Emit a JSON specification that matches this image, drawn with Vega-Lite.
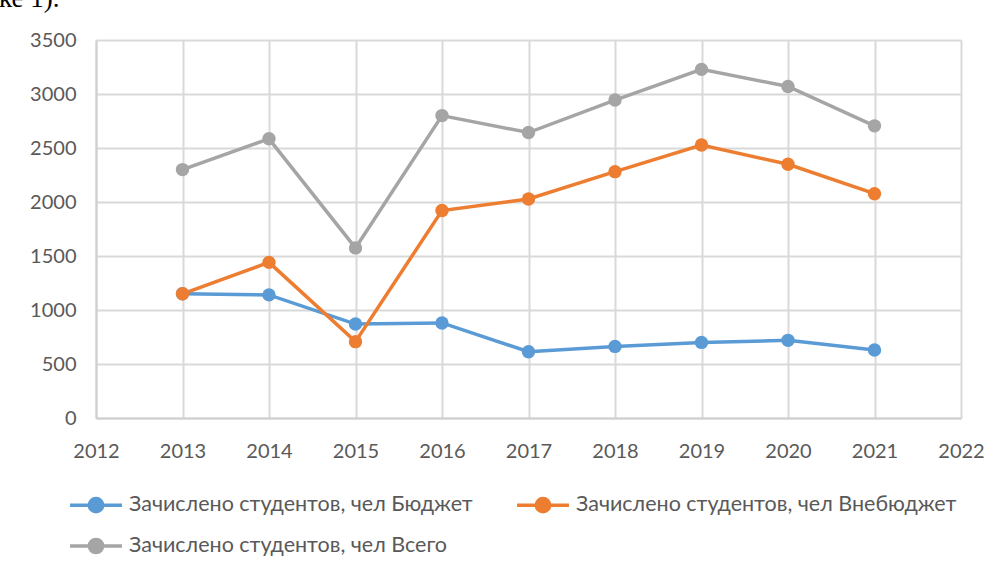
{
  "$schema": "https://vega.github.io/schema/vega-lite/v6.json",
  "autosize": "none",
  "width": 865,
  "height": 378,
  "padding": {"left": 96, "top": 40, "right": 37, "bottom": 158},
  "background": "white",
  "title": {
    "text": "ке 1).",
    "anchor": "start",
    "frame": "group",
    "orient": "top",
    "font": "Liberation Serif",
    "fontSize": 27,
    "fontWeight": "normal",
    "color": "#000000",
    "baseline": "alphabetic",
    "dx": -97,
    "offset": -4
  },
  "data": {
    "values": [
      {"year": 2013, "series": "Зачислено студентов, чел Бюджет", "value": 1150},
      {"year": 2014, "series": "Зачислено студентов, чел Бюджет", "value": 1140},
      {"year": 2015, "series": "Зачислено студентов, чел Бюджет", "value": 870},
      {"year": 2016, "series": "Зачислено студентов, чел Бюджет", "value": 880},
      {"year": 2017, "series": "Зачислено студентов, чел Бюджет", "value": 614},
      {"year": 2018, "series": "Зачислено студентов, чел Бюджет", "value": 663},
      {"year": 2019, "series": "Зачислено студентов, чел Бюджет", "value": 700},
      {"year": 2020, "series": "Зачислено студентов, чел Бюджет", "value": 719},
      {"year": 2021, "series": "Зачислено студентов, чел Бюджет", "value": 630},
      {"year": 2013, "series": "Зачислено студентов, чел Внебюджет", "value": 1150},
      {"year": 2014, "series": "Зачислено студентов, чел Внебюджет", "value": 1441},
      {"year": 2015, "series": "Зачислено студентов, чел Внебюджет", "value": 707},
      {"year": 2016, "series": "Зачислено студентов, чел Внебюджет", "value": 1921},
      {"year": 2017, "series": "Зачислено студентов, чел Внебюджет", "value": 2028},
      {"year": 2018, "series": "Зачислено студентов, чел Внебюджет", "value": 2281},
      {"year": 2019, "series": "Зачислено студентов, чел Внебюджет", "value": 2528},
      {"year": 2020, "series": "Зачислено студентов, чел Внебюджет", "value": 2349},
      {"year": 2021, "series": "Зачислено студентов, чел Внебюджет", "value": 2077},
      {"year": 2013, "series": "Зачислено студентов, чел Всего", "value": 2300},
      {"year": 2014, "series": "Зачислено студентов, чел Всего", "value": 2585},
      {"year": 2015, "series": "Зачислено студентов, чел Всего", "value": 1575},
      {"year": 2016, "series": "Зачислено студентов, чел Всего", "value": 2800},
      {"year": 2017, "series": "Зачислено студентов, чел Всего", "value": 2643},
      {"year": 2018, "series": "Зачислено студентов, чел Всего", "value": 2944},
      {"year": 2019, "series": "Зачислено студентов, чел Всего", "value": 3228},
      {"year": 2020, "series": "Зачислено студентов, чел Всего", "value": 3070},
      {"year": 2021, "series": "Зачислено студентов, чел Всего", "value": 2705}
    ]
  },
  "encoding": {
    "x": {
      "field": "year",
      "type": "quantitative",
      "scale": {"domain": [2012, 2022], "nice": false, "zero": false},
      "axis": {
        "title": null,
        "values": [2012, 2013, 2014, 2015, 2016, 2017, 2018, 2019, 2020, 2021, 2022],
        "format": "d",
        "ticks": false,
        "labelFlush": false,
        "labelOverlap": false,
        "labelBound": false,
        "labelPadding": 23,
        "domainColor": "#D0D0D0",
        "domainWidth": 2,
        "gridColor": "#D9D9D9",
        "gridWidth": 2
      }
    },
    "y": {
      "field": "value",
      "type": "quantitative",
      "scale": {"domain": [0, 3500], "nice": false},
      "axis": {
        "title": null,
        "values": [0, 500, 1000, 1500, 2000, 2500, 3000, 3500],
        "format": "d",
        "ticks": false,
        "labelFlush": false,
        "labelOverlap": false,
        "labelPadding": 20,
        "domainColor": "#D0D0D0",
        "domainWidth": 2,
        "gridColor": "#D9D9D9",
        "gridWidth": 2
      }
    },
    "color": {
      "field": "series",
      "type": "nominal",
      "sort": ["Зачислено студентов, чел Бюджет", "Зачислено студентов, чел Внебюджет", "Зачислено студентов, чел Всего"],
      "scale": {
        "domain": ["Зачислено студентов, чел Бюджет", "Зачислено студентов, чел Внебюджет", "Зачислено студентов, чел Всего"],
        "range": ["#5B9BD5", "#ED7D31", "#A5A5A5"]
      },
      "legend": {
        "title": null,
        "orient": "none",
        "legendX": -24,
        "legendY": 441,
        "direction": "horizontal",
        "columns": 2,
        "padding": 0,
        "columnPadding": 37,
        "rowPadding": 3,
        "symbolType": "M-1.18,0L1.18,0M-0.3,0A0.3,0.3 0 1,0 0.3,0A0.3,0.3 0 1,0 -0.3,0",
        "symbolSize": 1936,
        "symbolStrokeWidth": 3.5,
        "labelOffset": 9,
        "labelFont": "Lato",
        "labelFontSize": 21.5,
        "labelColor": "#595959",
        "labelLimit": 0,
        "encode": {
          "symbols": {
            "update": {
              "fill": {"scale": "color", "field": "value"},
              "stroke": {"scale": "color", "field": "value"},
              "strokeWidth": {"value": 3.5},
              "fillOpacity": {"value": 1},
              "opacity": {"value": 1}
            }
          }
        }
      }
    }
  },
  "layer": [
    {"mark": {"type": "line", "strokeWidth": 3.5}},
    {"mark": {"type": "point", "shape": "circle", "filled": true, "size": 180, "opacity": 1}}
  ],
  "config": {
    "view": {"stroke": null},
    "axis": {
      "labelFont": "Lato",
      "labelFontSize": 20,
      "labelColor": "#595959"
    }
  }
}
